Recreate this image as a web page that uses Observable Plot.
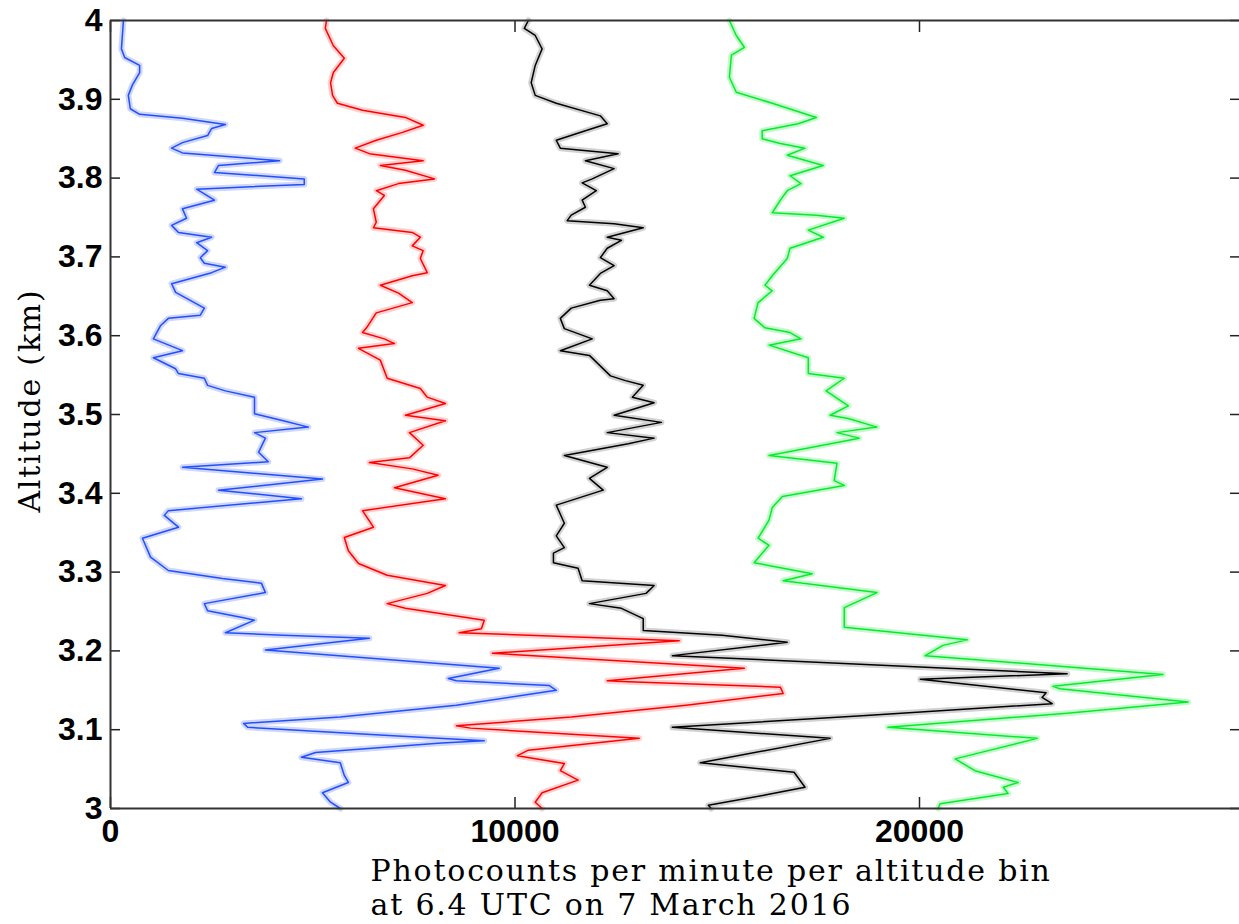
<!DOCTYPE html>
<html><head><meta charset="utf-8">
<script src="https://cdn.jsdelivr.net/npm/d3@7"></script>
<script src="https://cdn.jsdelivr.net/npm/@observablehq/plot@0.6"></script>
<style>
html,body{margin:0;padding:0;background:#fff;overflow:hidden}
#chart svg{background:#fff;display:block}
#chart svg g[aria-label$="tick label"] text{font-family:"Liberation Sans",Arial,sans-serif;font-weight:bold;font-size:32px;fill:#000}
#chart svg g[font-family*="DejaVu Serif"] text{letter-spacing:1.8px}
</style>
</head><body><div id="chart"></div>
<script>
// Altitude (km) and photocounts per minute per altitude bin, per time trace
const altBlue = [4.000,3.964,3.953,3.943,3.934,3.918,3.905,3.888,3.881,3.876,3.868,3.863,3.854,3.845,3.838,3.832,3.822,3.816,3.807,3.799,3.792,3.786,3.772,3.761,3.749,3.740,3.731,3.725,3.718,3.708,3.699,3.692,3.687,3.680,3.666,3.655,3.635,3.626,3.622,3.613,3.596,3.581,3.572,3.558,3.552,3.546,3.537,3.530,3.522,3.501,3.492,3.484,3.477,3.470,3.452,3.440,3.433,3.426,3.418,3.404,3.393,3.378,3.372,3.357,3.343,3.319,3.302,3.292,3.286,3.274,3.260,3.251,3.242,3.239,3.223,3.220,3.216,3.201,3.178,3.165,3.162,3.156,3.150,3.131,3.116,3.108,3.103,3.093,3.086,3.083,3.071,3.065,3.058,3.042,3.033,3.020,3.008,3.000];
const cntBlue = [320,270,350,720,720,540,440,490,720,1780,2840,2500,2400,1780,1510,1780,4180,2670,2570,4790,4790,2130,2570,1780,1880,1510,1680,2500,2130,2400,2220,2320,2840,2500,1510,1610,2320,2220,1430,1240,1060,1780,1060,1610,1680,2320,2400,2840,3560,3560,4270,4890,3560,3830,3660,3900,1780,3390,5240,2670,4720,1430,1330,1680,790,990,1430,2770,3730,3830,2320,2400,3290,3560,2840,4270,6400,3830,9610,8350,8550,10850,11020,8550,5680,3290,3390,6770,9240,8180,5070,4720,5680,5780,5880,5240,5440,5680];

const altRed = [4.000,3.990,3.968,3.952,3.934,3.921,3.905,3.895,3.886,3.877,3.867,3.858,3.848,3.838,3.831,3.822,3.816,3.810,3.799,3.793,3.784,3.778,3.761,3.744,3.737,3.731,3.725,3.714,3.708,3.698,3.680,3.676,3.664,3.654,3.642,3.629,3.610,3.604,3.596,3.590,3.584,3.569,3.546,3.533,3.522,3.514,3.499,3.492,3.477,3.461,3.445,3.439,3.431,3.423,3.407,3.393,3.378,3.357,3.344,3.327,3.311,3.296,3.283,3.273,3.260,3.254,3.239,3.228,3.223,3.213,3.197,3.178,3.162,3.161,3.154,3.146,3.131,3.116,3.105,3.102,3.089,3.074,3.067,3.057,3.048,3.036,3.020,3.008,3.000];
const cntRed = [5340,5310,5510,5780,5510,5440,5490,5610,6230,7290,7730,7220,6570,6050,6400,7730,6670,7290,8010,7120,6570,6770,6500,6570,6500,7460,7660,7460,7730,7660,7830,7460,6670,7120,7460,6570,6330,6230,6770,7020,6130,6670,6840,7660,7830,8280,7290,8280,7390,7730,7390,6400,7460,8100,7020,8280,6230,6500,5780,5880,6130,6840,8280,7830,6840,7290,9240,9170,8620,14060,9440,15670,12280,12800,16560,16630,14230,11390,8550,8900,13070,10330,10060,11220,11120,11560,10670,10500,10670];

const altBlack = [4.000,3.990,3.981,3.964,3.943,3.921,3.905,3.895,3.879,3.869,3.860,3.848,3.838,3.831,3.822,3.812,3.799,3.794,3.784,3.772,3.763,3.753,3.746,3.742,3.737,3.725,3.721,3.711,3.699,3.689,3.679,3.664,3.657,3.647,3.645,3.635,3.622,3.609,3.596,3.581,3.575,3.549,3.543,3.537,3.522,3.515,3.499,3.490,3.477,3.470,3.463,3.448,3.433,3.419,3.404,3.385,3.362,3.346,3.331,3.324,3.312,3.305,3.289,3.283,3.273,3.260,3.254,3.241,3.226,3.220,3.211,3.194,3.171,3.164,3.162,3.147,3.141,3.133,3.118,3.103,3.089,3.058,3.046,3.027,3.017,3.004,3.000];
const cntBlack = [10330,10230,10500,10670,10500,10400,10500,11020,12110,12280,11740,11020,11120,12550,11740,12450,11910,11660,12010,11660,11740,11390,11290,12450,13170,12280,12630,12280,12110,12450,12110,11840,12280,12450,12110,11390,11120,11220,11910,11120,11840,12360,12730,13170,12900,13440,12450,13620,12280,13440,12800,11220,12280,11840,12180,11020,11220,11020,11220,10950,10950,11560,11660,13440,13240,11840,12630,13170,13170,15120,16730,13890,23650,20020,20360,23130,23030,23280,18680,13890,17790,14580,16900,17170,16180,14780,14850];

const altGreen = [4.000,3.981,3.966,3.956,3.928,3.909,3.895,3.877,3.869,3.860,3.850,3.844,3.838,3.829,3.816,3.803,3.793,3.784,3.772,3.756,3.753,3.749,3.734,3.725,3.711,3.698,3.676,3.664,3.657,3.642,3.622,3.610,3.604,3.596,3.588,3.572,3.552,3.546,3.530,3.511,3.499,3.495,3.484,3.477,3.470,3.448,3.438,3.416,3.410,3.396,3.382,3.366,3.343,3.334,3.312,3.298,3.289,3.274,3.255,3.230,3.214,3.207,3.194,3.170,3.155,3.152,3.135,3.121,3.103,3.089,3.063,3.048,3.033,3.027,3.019,3.006,3.000];
const cntGreen = [15300,15470,15670,15350,15300,15470,16360,17450,17000,16110,16110,16560,17170,16730,17620,16800,17070,16730,16560,16360,17450,18140,17250,17620,16800,16730,16360,16180,16360,16010,15910,16180,16800,17070,16280,17250,17250,18140,17690,18240,17790,18240,18950,17960,18510,16280,17960,17890,18140,16610,16360,16280,16010,16280,15910,17350,16630,18950,18140,18140,21180,20580,20140,26020,23300,23470,26640,23650,19220,22910,20880,21370,22440,22070,22190,20510,20460];

const yTicks = [3, 3.1, 3.2, 3.3, 3.4, 3.5, 3.6, 3.7, 3.8, 3.9, 4];
const xTicks = [0, 10000, 20000];
const xDomain = [0, 27911];
const yDomain = [3, 4];
const xLabelLines = ["Photocounts per minute per altitude bin", "at 6.4 UTC on 7 March 2016"];
const yLabel = "Altitude (km)";

const series = [
  {alt: altBlue,  cnt: cntBlue,  color: "#1f4fff", halo: "#d0d6f8"},
  {alt: altRed,   cnt: cntRed,   color: "#ff0000", halo: "#ffd0d0"},
  {alt: altBlack, cnt: cntBlack, color: "#000000", halo: "#d2d2d2"},
  {alt: altGreen, cnt: cntGreen, color: "#00ee2a", halo: "#c8f8ce"}
];

const traceMarks = series.flatMap(s => {
  const rows = s.alt.map((a, i) => ({alt: a, cnt: s.cnt[i]}));
  return [
    Plot.line(rows, {x: "cnt", y: "alt", stroke: s.halo, strokeWidth: 6, strokeLinejoin: "round"}),
    Plot.line(rows, {x: "cnt", y: "alt", stroke: s.color, strokeWidth: 1.5})
  ];
});

const serif = "'DejaVu Serif', serif";
const chart = Plot.plot({
  width: 1239,
  height: 924,
  marginLeft: 110,
  marginTop: 20,
  marginRight: 0,
  marginBottom: 116,
  x: {domain: xDomain},
  y: {domain: yDomain},
  marks: [
    ...traceMarks,
    // inward ticks
    Plot.axisY(yTicks, {anchor: "left", tickSize: 10, dx: 10, tickFormat: () => "", label: null, stroke: "#222", strokeWidth: 1.5}),
    Plot.axisY(yTicks, {anchor: "right", tickSize: 10, dx: -10, tickFormat: () => "", label: null, stroke: "#222", strokeWidth: 1.5}),
    Plot.axisX(xTicks, {anchor: "bottom", tickSize: 11, dy: -11, tickFormat: () => "", label: null, stroke: "#222", strokeWidth: 1.5}),
    Plot.axisX(xTicks, {anchor: "top", tickSize: 11, dy: 11, tickFormat: () => "", label: null, stroke: "#222", strokeWidth: 1.5}),
    // tick labels
    Plot.axisY(yTicks, {anchor: "left", tickSize: 0, tickPadding: 8, label: null, tickFormat: d => String(d)}),
    Plot.axisX(xTicks, {anchor: "bottom", tickSize: 0, tickPadding: 11, label: null, tickFormat: d => String(d)}),
    // frame lines
    Plot.ruleX([xDomain[0]], {stroke: "#333", strokeWidth: 2}),
    Plot.ruleY(yDomain, {stroke: "#333", strokeWidth: 2}),
    // titles
    Plot.text([yLabel], {frameAnchor: "left", textAnchor: "middle", dx: -80, dy: -14, rotate: -90, fontFamily: serif, fontSize: 30, fill: "#000"}),
    Plot.text([xLabelLines.join("\n")], {frameAnchor: "bottom-left", lineAnchor: "top", lineHeight: 1.15, dx: 260, dy: 48, textAnchor: "start", fontFamily: serif, fontSize: 30, fill: "#000"})
  ]
});
document.getElementById("chart").appendChild(chart);
</script>
</body></html>
